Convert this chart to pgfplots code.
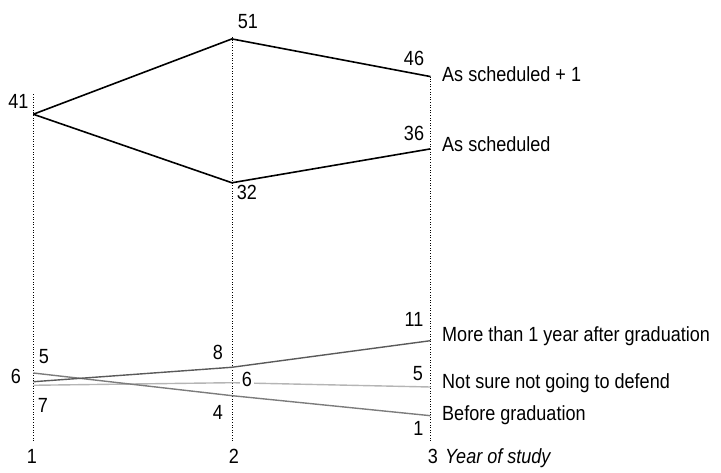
\documentclass[border=0pt]{standalone}
\usepackage{pgfplots}
\pgfplotsset{compat=1.18}
\usepackage{fontspec}
\setmainfont{Liberation Sans}[FakeStretch=0.88]
\definecolor{gdark}{HTML}{5A5A5A}
\definecolor{gmid}{HTML}{7C7C7C}
\definecolor{glight}{HTML}{B5B5B5}
\newcommand\PP[2]{({(#1-33.3)*1pt},{(440.7-#2)*1pt})}
\begin{document}
\begin{tikzpicture}[every node/.style={font=\fontsize{20.5}{24}\selectfont, inner sep=0pt}]
\path[use as bounding box] (-33.3pt,-31.3pt) rectangle (687.7pt,440.7pt);
\begin{axis}[at={(0,0)}, anchor=south west, scale only axis,
  width=397.2pt, height=409.3pt, xmin=1, xmax=3, ymin=-2.35, ymax=52,
  axis lines=none, clip=false]
% dotted guide lines
\addplot[black, line width=0.6pt, dotted] coordinates {(1,-2.35) (1,43.7)};
\addplot[black, line width=0.6pt, dotted] coordinates {(2,-2.35) (2,51.4)};
\addplot[black, line width=0.6pt, dotted] coordinates {(3,-2.35) (3,46.0)};
% series
\addplot[glight, line width=1.4pt] coordinates {(1,5.01) (2,5.35) (3,4.78)};      % Not sure
\addplot[gmid, line width=1.4pt] coordinates {(1,6.64) (2,3.63) (3,0.97)};        % Before graduation
\addplot[gdark, line width=1.4pt] coordinates {(1,5.48) (2,7.40) (3,10.93)};      % More than 1 year
\addplot[black, line width=1.6pt] coordinates {(1,41.0) (2,51.0) (3,46.0)};       % As scheduled + 1
\addplot[black, line width=1.6pt] coordinates {(1,41.0) (2,31.9) (3,36.4)};       % As scheduled
\end{axis}
% value labels
\node at \PP{18.5}{101} {41};
\node at \PP{248}{21.5} {51};
\node at \PP{414}{58} {46};
\node at \PP{414}{133} {36};
\node at \PP{247}{192.5} {32};
\node at \PP{16}{376.5} {6};
\node at \PP{44}{356.5} {5};
\node at \PP{43}{405} {7};
\node at \PP{218}{352.5} {8};
\node at \PP{218}{412} {4};
\node[fill=white, inner xsep=2pt] at \PP{247}{379} {6};
\node at \PP{414}{319} {11};
\node at \PP{418}{373.5} {5};
\node at \PP{418.5}{428.5} {1};
% series names
\node[anchor=base west] at \PP{442}{82} {As scheduled + 1};
\node[anchor=base west] at \PP{442}{151.7} {As scheduled};
\node[anchor=base west] at \PP{442}{341.7} {More than 1 year after graduation};
\node[anchor=base west] at \PP{442}{388} {Not sure not going to defend};
\node[anchor=base west] at \PP{442}{420} {Before graduation};
% x labels
\node[anchor=base] at \PP{32}{463} {1};
\node[anchor=base] at \PP{234}{463} {2};
\node[anchor=base] at \PP{433}{463} {3};
\node[anchor=base west] at \PP{445}{463} {\itshape Year of study};
\end{tikzpicture}
\end{document}
